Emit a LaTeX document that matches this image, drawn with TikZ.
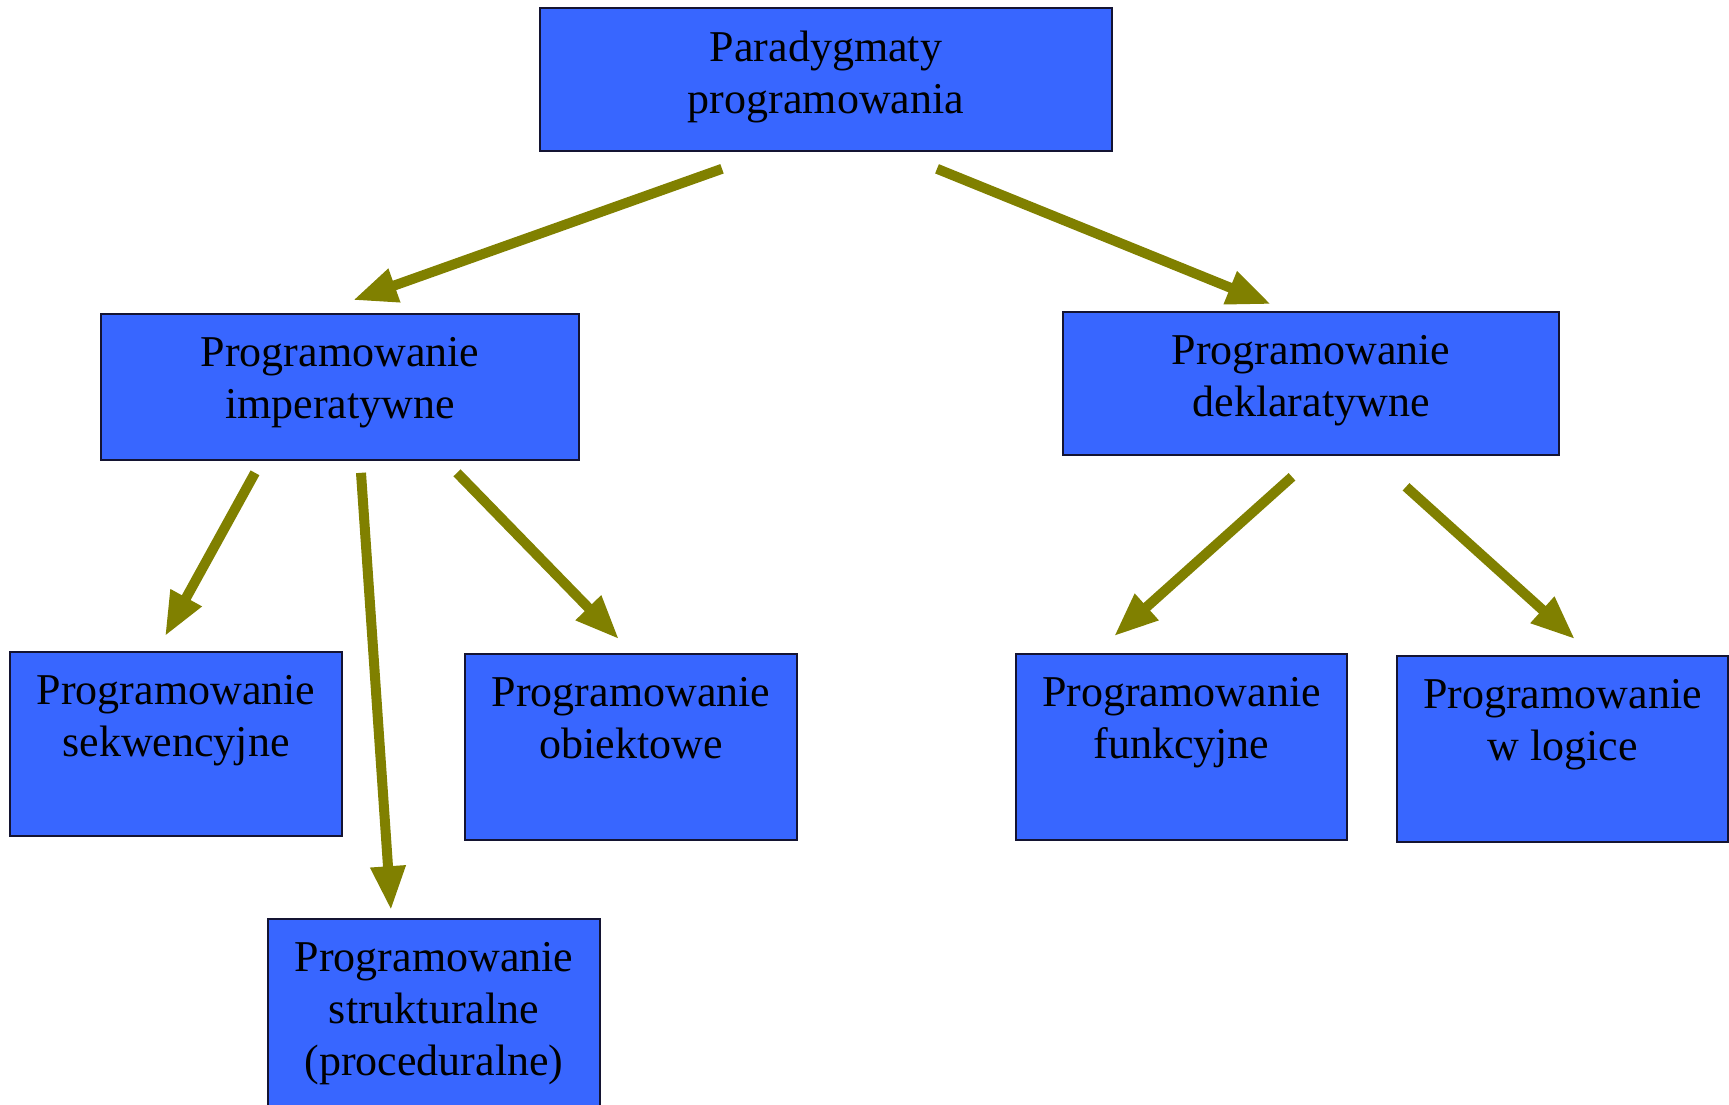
\documentclass[tikz,border=0pt]{standalone}
\usepackage{fontspec}
\setmainfont{Liberation Serif}
\usetikzlibrary{arrows.meta}
\definecolor{boxblue}{RGB}{56,102,255}
\definecolor{boxline}{RGB}{20,20,50}
\definecolor{arrowolive}{RGB}{128,128,0}
\tikzset{
  box/.style={draw=boxline, line width=1.6pt, fill=boxblue, rectangle, inner sep=0pt},
  boxtext/.style={anchor=north, inner sep=0pt, align=center, text=black,
    font=\fontsize{44}{52}\selectfont},
  link/.style={draw=arrowolive, line width=10pt,
    -{Triangle[length=44pt, width=33pt]}},
}
\begin{document}
\begin{tikzpicture}[x=1pt, y=-1pt]
  \useasboundingbox (0,0) rectangle (1729,1104);

  % boxes
  \node[box, minimum width=572pt, minimum height=143pt] (root) at (826,79.5) {};
  \node[box, minimum width=478pt, minimum height=146pt] (imp) at (340,387) {};
  \node[box, minimum width=496pt, minimum height=143pt] (decl) at (1311,383.5) {};
  \node[box, minimum width=332pt, minimum height=184pt] (seq) at (176,744) {};
  \node[box, minimum width=332pt, minimum height=190pt] (struct) at (434,1014) {};
  \node[box, minimum width=332pt, minimum height=186pt] (obj) at (631,747) {};
  \node[box, minimum width=331pt, minimum height=186pt] (func) at (1181.5,747) {};
  \node[box, minimum width=331pt, minimum height=186pt] (logic) at (1562.5,749) {};

  % box captions
  \node[boxtext] (root-t) at ([yshift=-24pt]root.north) {Paradygmaty\\programowania};
  \node[boxtext] (imp-t) at ([yshift=-24pt]imp.north) {Programowanie\\imperatywne};
  \node[boxtext] (decl-t) at ([yshift=-24pt]decl.north) {Programowanie\\deklaratywne};
  \node[boxtext] (seq-t) at ([yshift=-24pt]seq.north) {Programowanie\\sekwencyjne};
  \node[boxtext] (struct-t) at ([yshift=-24pt]struct.north) {Programowanie\\strukturalne\\(proceduralne)};
  \node[boxtext] (obj-t) at ([yshift=-24pt]obj.north) {Programowanie\\obiektowe};
  \node[boxtext] (func-t) at ([yshift=-24pt]func.north) {Programowanie\\funkcyjne};
  \node[boxtext] (logic-t) at ([yshift=-24pt]logic.north) {Programowanie\\w logice};

  % connectors
  \draw[link] ([shift={(-104,17)}]root.south) -- ([shift={(13,-13)}]imp.north);
  \draw[link] ([shift={(111,17)}]root.south) -- ([shift={(-40,-7)}]decl.north);
  \draw[link] ([shift={(-85,12)}]imp.south) -- ([shift={(-11,-15)}]seq.north);
  \draw[link] ([shift={(21,12)}]imp.south) -- ([shift={(-43,-8)}]struct.north);
  \draw[link] ([shift={(117,12)}]imp.south) -- ([shift={(-12,-14)}]obj.north);
  \draw[link] ([shift={(-19,21)}]decl.south) -- ([shift={(-67.5,-17)}]func.north);
  \draw[link] ([shift={(95,31)}]decl.south) -- ([shift={(12.5,-16)}]logic.north);
\end{tikzpicture}
\end{document}
